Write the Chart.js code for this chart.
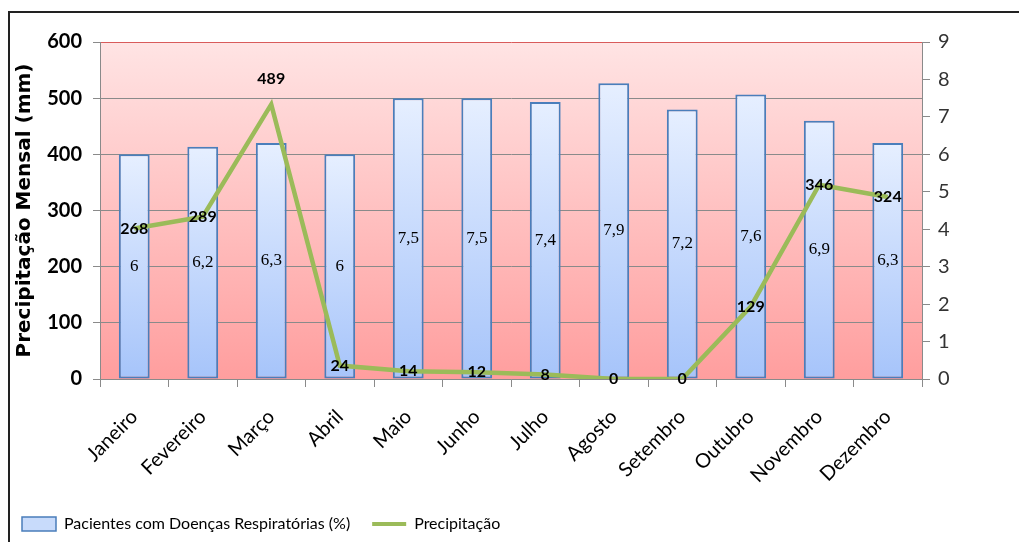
<!DOCTYPE html>
<html>
<head>
<meta charset="utf-8">
<script src="https://cdn.jsdelivr.net/npm/chart.js@4.4.0/dist/chart.umd.min.js"></script>
<style>
  html, body { margin: 0; padding: 0; background: #fff; }
  #wrap { position: relative; width: 1019px; height: 542px; overflow: hidden; }
  #grafico { position: absolute; left: 0; top: 0; }
  #moldura { position: absolute; left: 8px; top: 11px; right: -10px; bottom: -10px;
             border-left: 2px solid #222; border-top: 2px solid #222; pointer-events: none; }
</style>
</head>
<body>
<div id="wrap">
  <canvas id="grafico" width="1019" height="542"></canvas>
  <div id="moldura"></div>
</div>
<script>
const meses = ['Janeiro', 'Fevereiro', 'Março', 'Abril', 'Maio', 'Junho',
               'Julho', 'Agosto', 'Setembro', 'Outubro', 'Novembro', 'Dezembro'];
const pacientes = [6, 6.2, 6.3, 6, 7.5, 7.5, 7.4, 7.9, 7.2, 7.6, 6.9, 6.3];
const precipitacao = [268, 289, 489, 24, 14, 12, 8, 0, 0, 129, 346, 324];
const rotuloPacientes = 'Pacientes com Doenças Respiratórias (%)';
const rotuloPrecip = 'Precipitação';

const fonte = "Lato, 'Liberation Sans', sans-serif";
const cinza = '#8a8a8a';

// fundo rosado em degradê na área de plotagem
const fundoPlot = {
  id: 'fundoPlot',
  beforeDraw(chart) {
    const { ctx, chartArea: a } = chart;
    const g = ctx.createLinearGradient(0, a.top, 0, a.bottom);
    g.addColorStop(0, '#ffe4e4');
    g.addColorStop(1, '#ff9e9e');
    ctx.save();
    ctx.fillStyle = g;
    ctx.fillRect(a.left, a.top, a.right - a.left, a.bottom - a.top);
    ctx.restore();
  }
};

// valores escritos nas barras e sobre a linha
const rotulos = {
  id: 'rotulos',
  afterDatasetsDraw(chart) {
    const ctx = chart.ctx;
    ctx.save();
    ctx.textAlign = 'center';
    ctx.textBaseline = 'middle';
    ctx.fillStyle = '#000';

    ctx.font = "17px 'Liberation Serif', serif";
    chart.getDatasetMeta(0).data.forEach((el, i) => {
      ctx.fillText(String(pacientes[i]).replace('.', ','), el.x, (el.y + el.base) / 2);
    });

    // o pico fica com o rótulo acima da linha
    const pico = precipitacao.indexOf(Math.max(...precipitacao));
    ctx.font = 'bold 16px ' + fonte;
    chart.getDatasetMeta(1).data.forEach((el, i) => {
      ctx.fillText(String(precipitacao[i]), el.x, i === pico ? el.y - 26 : el.y);
    });
    ctx.restore();
  }
};

function degradeBarra(c) {
  const chart = c.chart;
  const esc = chart.scales.yR;
  if (!chart.chartArea || c.type !== 'data' || !esc) return '#c8dbfb';
  const topo = esc.getPixelForValue(c.parsed.y);
  const base = esc.getPixelForValue(0);
  const g = chart.ctx.createLinearGradient(0, topo, 0, base);
  g.addColorStop(0, '#e6efff');
  g.addColorStop(1, '#a6c4fa');
  return g;
}

new Chart(document.getElementById('grafico'), {
  data: {
    labels: meses,
    datasets: [
      {
        type: 'bar',
        label: rotuloPacientes,
        data: pacientes,
        yAxisID: 'yR',
        backgroundColor: degradeBarra,
        borderColor: '#4a7ebb',
        borderWidth: 2,
        borderSkipped: false,
        barPercentage: 0.45,
        categoryPercentage: 1,
        order: 1
      },
      {
        type: 'line',
        label: rotuloPrecip,
        data: precipitacao,
        yAxisID: 'y',
        borderColor: '#9bbb59',
        borderWidth: 4.5,
        pointRadius: 0,
        tension: 0,
        order: 0
      }
    ]
  },
  options: {
    responsive: false,
    animation: false,
    devicePixelRatio: 1,
    layout: { padding: { top: 42, left: 0, right: 0, bottom: 0 } },
    plugins: {
      tooltip: { enabled: false },
      legend: {
        position: 'bottom',
        align: 'start',
        labels: {
          usePointStyle: true,
          pointStyleWidth: 34,
          boxHeight: 14,
          padding: 22,
          color: '#000',
          font: { family: fonte, size: 16 },
          generateLabels() {
            return [
              { text: rotuloPacientes, fillStyle: '#c8dbfb', strokeStyle: '#4a7ebb',
                lineWidth: 1.5, pointStyle: 'rect', datasetIndex: 0 },
              { text: rotuloPrecip, fillStyle: '#9bbb59', strokeStyle: '#9bbb59',
                lineWidth: 4, pointStyle: 'line', datasetIndex: 1 }
            ];
          }
        }
      }
    },
    scales: {
      x: {
        offset: true,
        grid: { offset: true, drawOnChartArea: false, color: cinza, tickLength: 8 },
        border: { color: cinza },
        ticks: {
          autoSkip: false, minRotation: 45, maxRotation: 45, padding: 18,
          color: '#000', font: { family: fonte, size: 20 }
        },
        afterFit(s) { s.height = 115; }
      },
      y: {
        position: 'left',
        min: 0, max: 600,
        ticks: { stepSize: 100, padding: 11, color: '#000',
                 font: { family: fonte, size: 20, weight: 'bold' } },
        grid: { color: c => (c.tick && c.tick.value === 600 ? '#d95b5b' : cinza),
                tickColor: cinza, tickLength: 7 },
        border: { color: cinza },
        title: {
          display: true, text: 'Precipitação Mensal (mm)', color: '#000',
          font: { family: "'DejaVu Sans', sans-serif", size: 20, weight: 'bold' },
          padding: { top: 13, bottom: 0 }
        },
        afterFit(s) { s.width = 100; }
      },
      yR: {
        position: 'right',
        min: 0, max: 9,
        ticks: { stepSize: 1, padding: 8, color: '#333',
                 font: { family: fonte, size: 20 } },
        grid: { drawOnChartArea: false, color: cinza, tickLength: 8 },
        border: { color: cinza },
        afterFit(s) { s.width = 97; }
      }
    }
  },
  plugins: [fundoPlot, rotulos]
});
</script>
</body>
</html>
